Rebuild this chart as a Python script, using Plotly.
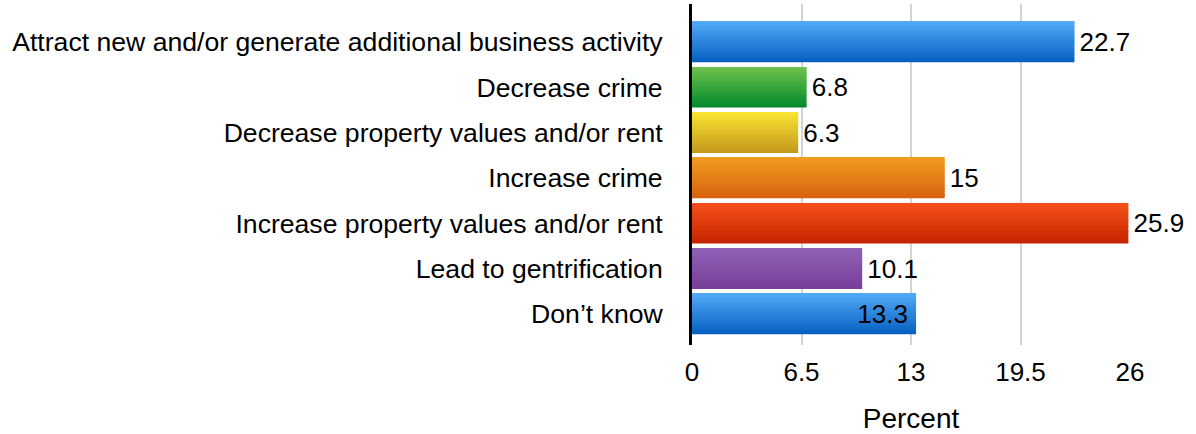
import plotly.graph_objects as go

# Survey responses: perceived effects, in percent
categories = [
    "Attract new and/or generate additional business activity",
    "Decrease crime",
    "Decrease property values and/or rent",
    "Increase crime",
    "Increase property values and/or rent",
    "Lead to gentrification",
    "Don\u2019t know",
]
values = [22.7, 6.8, 6.3, 15, 25.9, 10.1, 13.3]
x_ticks = [0, 6.5, 13, 19.5, 26]

# Top and bottom colour of each bar's vertical gradient
top_colors = ["#52a9f7", "#6fc24b", "#fae431", "#f09c1f", "#f8501a", "#8d62b5", "#52a9f7"]
bottom_colors = ["#0862c2", "#058a2f", "#c49a1d", "#d8630f", "#c52500", "#793e9b", "#0862c2"]
label_positions = ["outside"] * 6 + ["inside"]

FONT = "Helvetica, 'Liberation Sans', Arial, sans-serif"
BAR_W = 0.889
N_STRIPS = 24


def hex_to_rgb(h):
    h = h.lstrip("#")
    return tuple(int(h[i:i + 2], 16) for i in (0, 2, 4))


def mix(c1, c2, t):
    a, b = hex_to_rgb(c1), hex_to_rgb(c2)
    r = [round(a[i] + (b[i] - a[i]) * t) for i in range(3)]
    return f"rgb({r[0]},{r[1]},{r[2]})"


def value_label(v, pos):
    # a little extra breathing room between bar end and label
    return f"\u200a{v:g}" if pos == "outside" else f"{v:g}\u2009"


ypos = list(range(len(categories)))
fig = go.Figure()

# Each bar is built from thin horizontal strips to give a vertical gradient
strip = BAR_W / N_STRIPS
for j in range(N_STRIPS):
    t = j / (N_STRIPS - 1)
    fig.add_trace(go.Bar(
        x=values,
        y=ypos,
        orientation="h",
        base=0,
        offset=-BAR_W / 2 + j * strip,
        width=strip * (1.0 if j == N_STRIPS - 1 else 1.15),
        marker=dict(color=[mix(a, b, t) for a, b in zip(top_colors, bottom_colors)],
                    line=dict(width=0)),
        hoverinfo="skip",
        showlegend=False,
    ))

# Value labels
fig.add_trace(go.Bar(
    x=values,
    y=ypos,
    orientation="h",
    width=BAR_W,
    marker=dict(color="rgba(0,0,0,0)", line=dict(width=0)),
    text=[value_label(v, p) for v, p in zip(values, label_positions)],
    textposition=label_positions,
    insidetextanchor="end",
    textfont=dict(family=FONT, size=26, color="#000000"),
    insidetextfont=dict(family=FONT, size=26, color="#000000"),
    outsidetextfont=dict(family=FONT, size=26, color="#000000"),
    constraintext="none",
    cliponaxis=False,
    showlegend=False,
))

fig.update_layout(
    width=1196,
    height=434,
    margin=dict(l=692, r=66, t=4, b=89),
    paper_bgcolor="white",
    plot_bgcolor="white",
    barmode="overlay",
    font=dict(family=FONT, size=26, color="#000000"),
    xaxis=dict(
        range=[0, 26],
        tickvals=x_ticks,
        ticktext=[f"{v:g}" for v in x_ticks],
        showgrid=True,
        gridcolor="#d4d4d4",
        gridwidth=2,
        zeroline=False,
        showline=False,
        ticks="",
        ticklabelstandoff=9,
        tickfont=dict(family=FONT, size=26, color="#000000"),
        title=dict(text="Percent", font=dict(family=FONT, size=28, color="#000000"), standoff=22),
    ),
    yaxis=dict(
        range=[6.684, -0.838],
        tickvals=ypos,
        ticktext=categories,
        showgrid=False,
        zeroline=False,
        showline=True,
        linecolor="#000000",
        linewidth=3,
        ticks="",
        ticklabelstandoff=21,
        tickfont=dict(family=FONT, size=26.6, color="#000000"),
    ),
)

fig.write_html("out.html")
